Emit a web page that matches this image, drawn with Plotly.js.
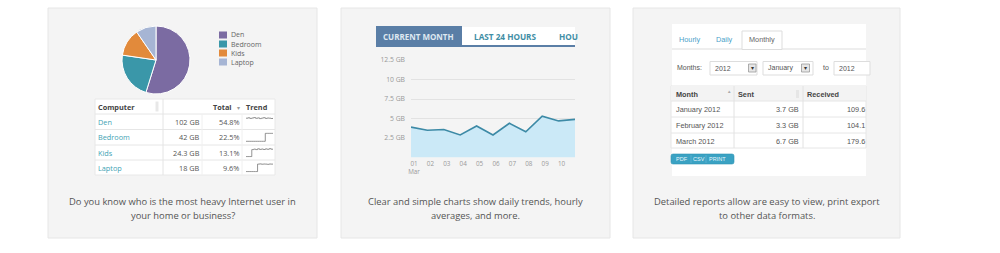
<!DOCTYPE html>
<html><head><meta charset="utf-8">
<script src="https://cdn.plot.ly/plotly-3.0.1.min.js"></script>
<style>html,body{margin:0;padding:0;background:#fff}#c{width:1000px;height:253px}</style>
</head><body><div id="c"></div>
<script>
// ---------- data ----------
const pieLabels = ['Den','Bedroom','Kids','Laptop'];
const pieValues = [54.8, 22.5, 13.1, 9.6];
const pieColors = ['#7b6ba2','#3a97a9','#e28a3b','#a6b5d4'];
const usageGB = ['102 GB','42 GB','24.3 GB','18 GB'];
const usagePct = ['54.8%','22.5%','13.1%','9.6%'];
const trendDen = [8.6,9.0,8.4,8.8,9.2,8.5,8.9,8.2,8.7,9.1,8.4,8.8,8.6,8.3,8.9];
const trendBedroom = [1,1,1,1,1,1,1,1,1,1,9,9,9,9,9];
const trendKids = [1,1,1,8,8.5,8,8.8,8.2,8.6,8.1,8.7,8.3,8.9,8.4,8.6];
const trendLaptop = [1,1,1,1,1,1,8.5,8.7,8.4,8.6,8.5,8.3,8.6,8.5,8.4];

const chartTabs = ['CURRENT MONTH','LAST 24 HOURS','HOU'];
const dayNum = [1,2,3,4,5,6,7,8,9,10,11];
const dailyGB = [3.9,3.5,3.6,2.9,4.05,2.9,4.4,3.3,5.3,4.7,4.9];
const dayTickVals = [1,2,3,4,5,6,7,8,9,10];
const dayTickText = ['01<br>Mar','02','03','04','05','06','07','08','09','10'];
const gbTickVals = [2.5,5,7.5,10,12.5];
const gbTickText = ['2.5 GB','5 GB','7.5 GB','10 GB','12.5 GB'];

const reportTabs = ['Hourly','Daily','Monthly'];
const reportMonths = ['January 2012','February 2012','March 2012'];
const reportSent = ['3.7 GB','3.3 GB','6.7 GB'];
const reportReceived = ['109.6','104.1','179.6'];
const exportButtons = ['PDF','CSV','PRINT'];

const captions = [
  ['Do you know who is the most heavy Internet user in','your home or business?'],
  ['Clear and simple charts show daily trends, hourly','averages, and more.'],
  ['Detailed reports allow are easy to view, print export','to other data formats.']
];

// ---------- helpers (pixel -> paper) ----------
const W = 1000, H = 253;
const P = x => x / W, Q = y => 1 - y / H;
const shapes = [], ann = [];
function rect(x0,y0,x1,y1,fill,lc,lw){
  shapes.push({type:'rect',xref:'paper',yref:'paper',x0:P(x0),x1:P(x1),y0:Q(y1),y1:Q(y0),
    fillcolor:fill,line:{color:lc||'rgba(0,0,0,0)',width:lw===undefined?1:lw},layer:'below'});
}
function hline(x0,x1,y,c,w){
  shapes.push({type:'line',xref:'paper',yref:'paper',x0:P(x0),x1:P(x1),y0:Q(y),y1:Q(y),line:{color:c,width:w||1},layer:'below'});
}
function vline(x,y0,y1,c,w){
  shapes.push({type:'line',xref:'paper',yref:'paper',x0:P(x),x1:P(x),y0:Q(y0),y1:Q(y1),line:{color:c,width:w||1},layer:'below'});
}
function txt(x,y,t,o){
  o=o||{};
  ann.push({xref:'paper',yref:'paper',x:P(x),y:Q(y),text:t,showarrow:false,
    xanchor:o.xa||'left',yanchor:'middle',borderpad:0,
    font:{family:o.f||'Open Sans, sans-serif',size:o.s||7,color:o.c||'#555',weight:o.b?'bold':'normal'}});
}

// ---------- panels ----------
const panels = [[48,317],[341,610],[633,900]];
panels.forEach(p => rect(p[0],8,p[1],238,'#f4f4f4','#e6e6e6',1));
captions.forEach((c,i)=>{
  const cx = (panels[i][0]+panels[i][1])/2;
  txt(cx,201.5,c[0],{xa:'center',s:9.4,c:'#555'});
  txt(cx,215.5,c[1],{xa:'center',s:9.4,c:'#555'});
});

// ---------- panel 1 ----------
pieLabels.forEach((l,i)=>{
  const y = 35 + i*9;
  rect(219,y-3.5,227,y+3.5,pieColors[i],null,0);
  txt(230,y,l,{s:7,c:'#666'});
});
rect(95,99,275,175,'#ffffff','#e8e8e8',1);
[114,129.5,145,160].forEach(y=>hline(95,275,y,'#e6e6e6',1));
vline(163,99,175,'#e4e4e4',1);
vline(202,114,175,'#f0f0f0',1);
vline(242,114,175,'#f0f0f0',1);
rect(155.5,101.5,158.5,111.5,'#e8e8e8',null,0);
txt(97,106.5,'Computer',{b:true,s:7.3,c:'#444'});
txt(233,106.5,'Total',{b:true,s:7.3,c:'#444',xa:'right'});
txt(236,107.5,'▾',{s:6,c:'#999'});
txt(245,106.5,'Trend',{b:true,s:7.3,c:'#444'});
const rowY = [121.8,137.3,152.6,167.6];
pieLabels.forEach((l,i)=>{
  txt(97,rowY[i],l,{s:7.3,c:'#3fa3b4'});
  txt(201,rowY[i],usageGB[i],{s:7.3,c:'#555',xa:'right'});
  txt(240,rowY[i],usagePct[i],{s:7.3,c:'#555',xa:'right'});
});

// ---------- panel 2 ----------
rect(462,27,575,45,'#ffffff',null,0);
rect(376,26,462,46,'#5a7ea6',null,0);
rect(376,45,575,47,'#5a7ea6',null,0);
txt(418.5,36,chartTabs[0],{xa:'center',b:true,s:8,c:'#dfe8f1'});
txt(505.5,36,chartTabs[1],{xa:'center',b:true,s:8.2,c:'#3f8ea5'});
txt(558,36,chartTabs[2],{b:true,s:8.2,c:'#3f8ea5'});

// ---------- panel 3 ----------
rect(672,24,866,176,'#ffffff',null,0);
hline(672,866,49,'#dddddd',1);
rect(742,31,782,49.5,'#ffffff','#dddddd',1);
const AF = 'Liberation Sans, Arial, sans-serif';
txt(678,40,reportTabs[0],{s:7.3,c:'#4a9fc9',f:AF});
txt(715,40,reportTabs[1],{s:7.3,c:'#4a9fc9',f:AF});
txt(748,40,reportTabs[2],{s:7.3,c:'#666',f:AF});
txt(676,67.5,'Months:',{s:7,c:'#555',f:AF});
rect(710,61.5,757,75,'#ffffff','#dddddd',1);
rect(748.5,64,756,72,'#e6e6e6','#999',0.8);
txt(752.2,68.3,'▾',{xa:'center',s:6,c:'#333'});
txt(714,68,'2012',{s:7,c:'#555',f:AF});
rect(763,61.5,813,75,'#ffffff','#dddddd',1);
rect(801.5,64,809.5,72,'#e6e6e6','#999',0.8);
txt(805.5,68.3,'▾',{xa:'center',s:6,c:'#333'});
txt(767,68,'January',{s:7,c:'#555',f:AF});
txt(822,67.5,'to',{s:7,c:'#555',f:AF});
rect(834,61.5,870,75,'#ffffff','#dddddd',1);
txt(838,68,'2012',{s:7,c:'#555',f:AF});
rect(671,86,866,148,'#ffffff','#e6e6e6',1);
rect(671,86,866,101,'#f3f3f3',null,0);
[101,117,133].forEach(y=>hline(671,866,y,'#e6e6e6',1));
vline(734,86,148,'#e2e2e2',1);
vline(803,86,148,'#e2e2e2',1);
txt(675,94,'Month',{b:true,s:7.3,c:'#444',f:AF});
txt(726,91.5,'▲',{s:4.5,c:'#aaa',f:AF});
txt(737,94,'Sent',{b:true,s:7.3,c:'#444',f:AF});
rect(796,90,799,98,'#e6e6e6',null,0);
txt(806,94,'Received',{b:true,s:7.3,c:'#444',f:AF});
const rY3 = [109.3,125.3,141];
reportMonths.forEach((m,i)=>{
  txt(675,rY3[i],m,{s:7.3,c:'#555',f:AF});
  txt(800,rY3[i],reportSent[i],{s:7.3,c:'#555',f:AF,xa:'right'});
  txt(866,rY3[i],reportReceived[i],{s:7.3,c:'#555',f:AF,xa:'right'});
});
shapes.push({type:'path',xref:'paper',yref:'paper',layer:'below',fillcolor:'#3aa2c3',line:{color:'#2f93b4',width:0.6},
  path:`M ${P(673)} ${Q(154)} L ${P(732)} ${Q(154)} Q ${P(734)} ${Q(154)} ${P(734)} ${Q(156)} L ${P(734)} ${Q(162)} Q ${P(734)} ${Q(164)} ${P(732)} ${Q(164)} L ${P(673)} ${Q(164)} Q ${P(671)} ${Q(164)} ${P(671)} ${Q(162)} L ${P(671)} ${Q(156)} Q ${P(671)} ${Q(154)} ${P(673)} ${Q(154)} Z`});
[682,698.5,717].forEach((x,i)=>txt(x,159,exportButtons[i],{xa:'center',s:5.5,c:'#e8f6fb',f:AF}));
vline(691,155,163,'#6cbbd6',0.6); vline(706,155,163,'#6cbbd6',0.6);

// ---------- traces ----------
const traces = [];
traces.push({type:'pie',labels:pieLabels,values:pieValues,sort:false,direction:'clockwise',rotation:0,
  marker:{colors:pieColors,line:{color:'#ffffff',width:1}},textinfo:'none',hoverinfo:'label+percent',
  showlegend:false,domain:{x:[P(122),P(190)],y:[Q(94),Q(26)]}});
traces.push({type:'scatter',x:dayNum,y:dailyGB,mode:'lines',fill:'tozeroy',fillcolor:'#cbe9f7',
  line:{color:'#3d8aa6',width:1.6},xaxis:'x',yaxis:'y',showlegend:false,hoverinfo:'y'});
const trends = [trendDen,trendBedroom,trendKids,trendLaptop];
trends.forEach((t,i)=>{
  traces.push({type:'scatter',x:t.map((_,k)=>k),y:t,mode:'lines',line:{color:'#777',width:0.8,shape:'hv'},
    xaxis:'x'+(i+2),yaxis:'y'+(i+2),showlegend:false,hoverinfo:'skip'});
});

const layout = {
  width:W,height:H,margin:{l:0,r:0,t:0,b:0},paper_bgcolor:'#ffffff',plot_bgcolor:'rgba(0,0,0,0)',
  showlegend:false,shapes:shapes,annotations:ann,
  xaxis:{domain:[P(411),P(575)],range:[1,11],tickvals:dayTickVals,ticktext:dayTickText,showgrid:false,zeroline:false,
    showline:false,ticks:'',tickfont:{family:'Open Sans, sans-serif',size:6.3,color:'#999'},ticklabelshift:3,ticklabelstandoff:1,fixedrange:true},
  yaxis:{domain:[Q(157.6),Q(60)],range:[0,12.5],tickvals:gbTickVals,ticktext:gbTickText,showgrid:true,gridcolor:'#e2e2e2',gridwidth:1,
    zeroline:false,showline:false,ticks:'',tickfont:{family:'Open Sans, sans-serif',size:6.8,color:'#999'},ticklabelstandoff:5,fixedrange:true}
};
rowY.forEach((y,i)=>{
  const n = i+2;
  layout['xaxis'+n] = {domain:[P(246),P(273)],range:[0,14],visible:false,fixedrange:true,anchor:'y'+n};
  layout['yaxis'+n] = {domain:[Q(y+5),Q(y-5)],range:[0,10],visible:false,fixedrange:true,anchor:'x'+n};
});
Plotly.newPlot('c',traces,layout,{displayModeBar:false,staticPlot:true});
</script></body></html>
